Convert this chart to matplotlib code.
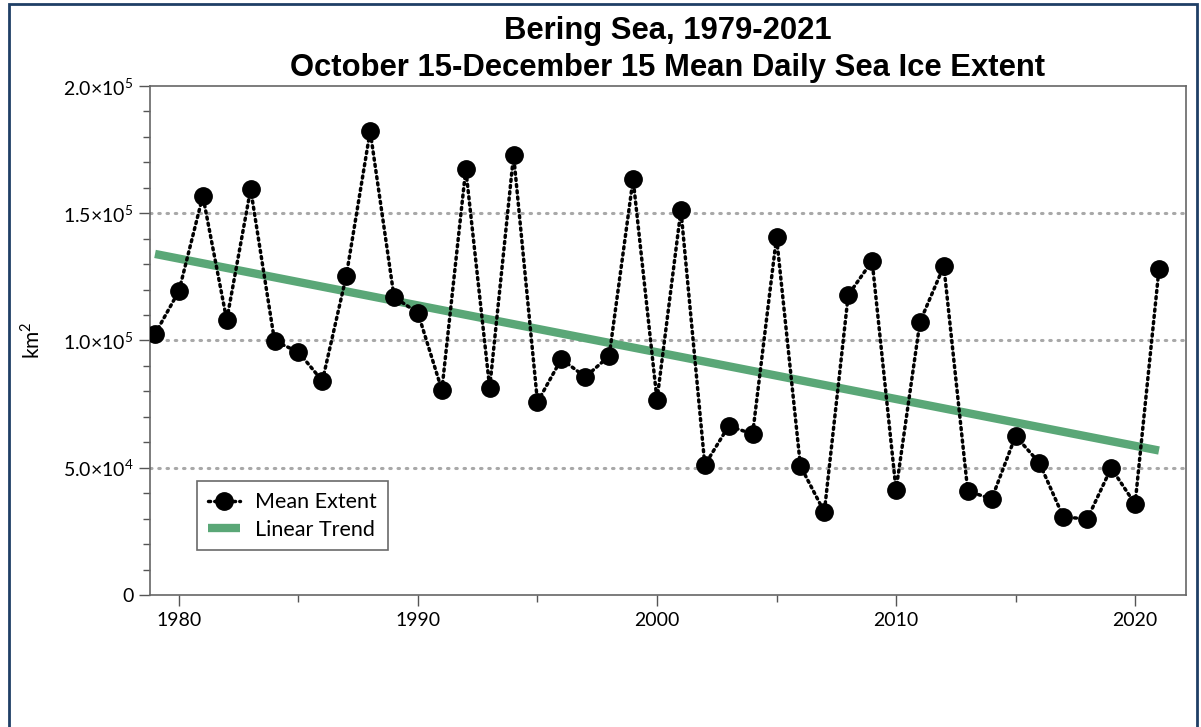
import matplotlib.pyplot as plt
import numpy as np
from matplotlib.ticker import MultipleLocator, FixedLocator
from matplotlib.patches import Rectangle

# Mean daily sea ice extent (km^2), Oct 15 - Dec 15
years = np.arange(1979, 2022)
extent = [102550, 119450, 156800, 108050, 159500, 99800, 95480, 84090, 125340,
          182300, 117090, 110800, 80550, 167400, 81340, 172890, 75830, 92730,
          85660, 93910, 163460, 76620, 151280, 51080, 66400, 63260, 140670,
          50690, 32610, 117880, 131240, 41260, 107270, 129270, 40860, 37720,
          62480, 51870, 30650, 29860, 49900, 35760, 128090]

ytick_vals = [0, 50000, 100000, 150000, 200000]
ytick_labels = ['0', r'5.0$\times$10$^4$', r'1.0$\times$10$^5$',
                r'1.5$\times$10$^5$', r'2.0$\times$10$^5$']

plt.rcParams['font.family'] = ['Lato', 'DejaVu Sans']
plt.rcParams['mathtext.fontset'] = 'custom'
plt.rcParams['mathtext.rm'] = 'Lato'

fig = plt.figure(figsize=(12.01, 7.27), dpi=100)
ax = fig.add_axes([0.1249, 0.1816, 0.8626, 0.7001])

# linear trend from least squares fit
slope, icpt = np.polyfit(years, extent, 1)
trend = slope * years + icpt

for yv in ytick_vals[1:4]:
    ax.axhline(yv, color='#a8a8a8', lw=2.2, linestyle=(0, (0.5, 2.2)),
               dash_capstyle='round', zorder=1)

ax.plot(years, trend, color='#5aa777', lw=6, solid_capstyle='butt', zorder=2,
        label='Linear Trend')
ax.plot(years, extent, color='black', lw=2.5, linestyle=(0, (0.6, 1.2)),
        dash_capstyle='round', marker='o', markersize=12.5, zorder=3,
        label='Mean Extent')

ax.set_xlim(1978.79, 2022.13)
ax.set_ylim(0, 200000)
ax.xaxis.set_major_locator(FixedLocator([1980, 1990, 2000, 2010, 2020]))
ax.xaxis.set_minor_locator(MultipleLocator(5))
ax.set_yticks(ytick_vals)
ax.set_yticklabels(ytick_labels)
ax.yaxis.set_minor_locator(MultipleLocator(10000))

ax.tick_params(axis='both', which='major', direction='out', length=8,
               width=1, color='#555555', labelsize=14, pad=4)
ax.tick_params(axis='both', which='minor', direction='out', length=5,
               width=1, color='#555555')
for sp in ax.spines.values():
    sp.set_color('#666666')
    sp.set_linewidth(1.2)

ax.set_ylabel('km$^2$', fontsize=15, labelpad=14)

handles, labels = ax.get_legend_handles_labels()
leg = ax.legend(handles[::-1], labels[::-1], loc='lower left',
                bbox_to_anchor=(0.039, 0.075), fontsize=15.5, frameon=True,
                fancybox=False, edgecolor='#444444', handlelength=1.5,
                handletextpad=0.7, borderpad=0.5, labelspacing=0.35,
                borderaxespad=0.3)
leg.get_frame().set_linewidth(1.2)

fig.text(0.556, 0.957, 'Bering Sea, 1979-2021', ha='center', va='center',
         fontsize=22.3, fontweight='bold', family='Liberation Sans')
fig.text(0.556, 0.906, 'October 15-December 15 Mean Daily Sea Ice Extent',
         ha='center', va='center', fontsize=22.3, fontweight='bold',
         family='Liberation Sans')

# dark blue frame round the figure
fig.patches.append(Rectangle((0.0075, -0.01), 0.989, 1.004, transform=fig.transFigure,
                             fill=False, edgecolor='#1f3f66', lw=2))

fig.savefig('out.png', dpi=100)
